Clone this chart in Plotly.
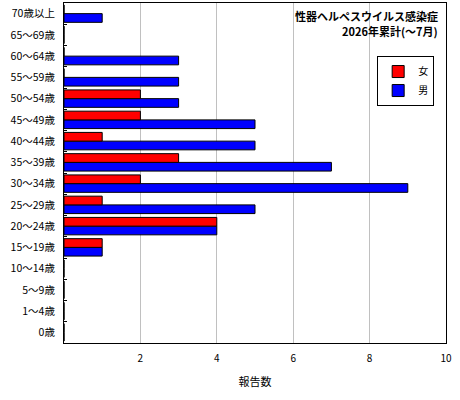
import plotly.graph_objects as go

# age groups, bottom to top
ages = ["0歳", "1～4歳", "5～9歳", "10～14歳", "15～19歳", "20～24歳", "25～29歳",
        "30～34歳", "35～39歳", "40～44歳", "45～49歳", "50～54歳", "55～59歳",
        "60～64歳", "65～69歳", "70歳以上"]
female = [0, 0, 0, 0, 1, 4, 1, 2, 3, 1, 2, 2, 0, 0, 0, 0]
male = [0, 0, 0, 0, 1, 4, 5, 9, 7, 5, 5, 3, 3, 3, 0, 1]

title_lines = ["性器ヘルペスウイルス感染症", "2026年累計(～7月)"]

FONT = "Noto Sans CJK JP"

fig = go.Figure()
# male first so it sits below female inside each group
fig.add_trace(go.Bar(y=ages, x=male, name="男", orientation="h",
                     marker=dict(color="#0000ff", line=dict(color="black", width=1)),
                     legendrank=2))
fig.add_trace(go.Bar(y=ages, x=female, name="女", orientation="h",
                     marker=dict(color="#ff0000", line=dict(color="black", width=1)),
                     legendrank=1))

fig.update_layout(
    width=460, height=400,
    margin=dict(l=64, r=14, t=3, b=57),
    barmode="group", bargap=0.18, bargroupgap=0,
    plot_bgcolor="white", paper_bgcolor="white",
    font=dict(family=FONT, size=10, color="black"),
    showlegend=True,
    legend=dict(x=0.969, y=0.844, xanchor="right", yanchor="top",
                bordercolor="black", borderwidth=1, bgcolor="white",
                font=dict(size=10), itemwidth=30, tracegroupgap=0),
    xaxis=dict(range=[0, 10], tickvals=[2, 4, 6, 8, 10], showgrid=True,
               gridcolor="#c0c0c0", gridwidth=1, zeroline=False,
               showline=True, linecolor="black", linewidth=1, mirror=True,
               ticks="", ticklabelstandoff=6, automargin=False,
               title=dict(text="報告数", font=dict(size=11), standoff=14)),
    yaxis=dict(type="category", categoryorder="array", categoryarray=ages,
               showline=True, linecolor="black", linewidth=1, mirror=True,
               ticks="inside", ticklen=3, tickcolor="black", tickson="boundaries",
               showgrid=False, ticklabelstandoff=6, automargin=False,
               tickfont=dict(size=10.5)),
)

for i, line in enumerate(title_lines):
    fig.add_annotation(text="<b>" + line + "</b>", xref="paper", yref="paper",
                       x=0.984, y=0.962 - i * 0.043, xanchor="right", yanchor="middle",
                       showarrow=False, font=dict(size=11, color="black"))

# page has a default 8px body margin, drop it so the figure sits at 0,0
fig.write_html("out.html", config={"displayModeBar": False},
               post_script="document.body.style.margin='0';")
